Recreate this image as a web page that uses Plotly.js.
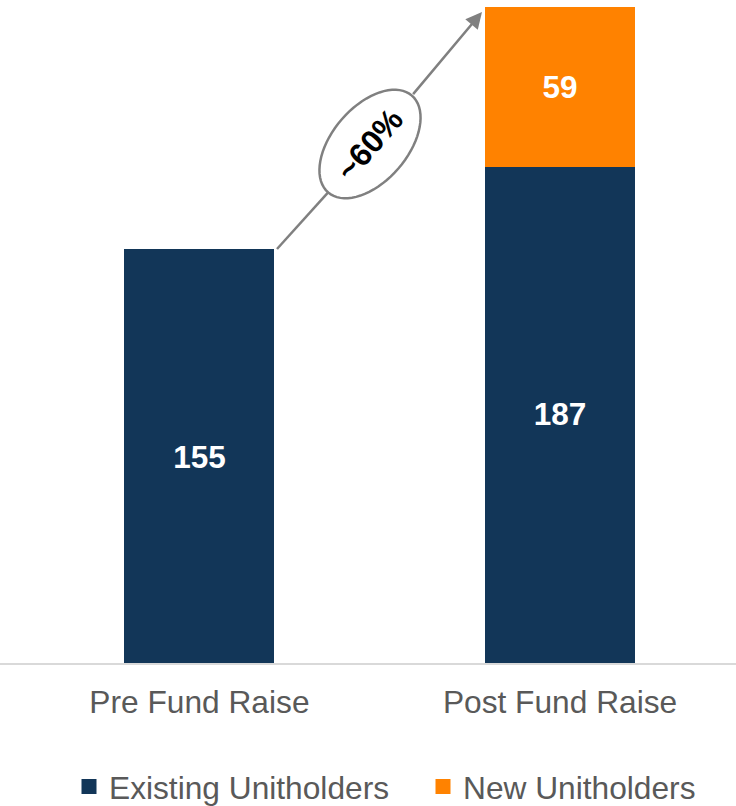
<!DOCTYPE html>
<html>
<head>
<meta charset="utf-8">
<script src="https://cdn.plot.ly/plotly-3.0.1.min.js"></script>
<style>html,body{margin:0;padding:0;background:#fff;}#chart{width:736px;height:806px;}</style>
</head>
<body>
<div id="chart"></div>
<script>
// ---- data ----
const categories = ['Pre Fund Raise', 'Post Fund Raise'];
const existingUnitholders = [155, 187];
const newUnitholders = [null, 59];
const seriesNames = ['Existing Unitholders', 'New Unitholders'];
const growthLabel = '~60%';

// ---- layout geometry (pixels) ----
const W = 736, H = 806, mT = 0, mB = 143, mL = 0, mR = 0;
const plotH = H - mT - mB, plotW = W - mL - mR;
const px2x = p => (p - mL) / plotW;
const px2y = p => (mT + plotH - p) / plotH;

// arrow + ellipse decoration (pixel positions)
const arrowStart = [277, 249], arrowTip = [482, 12];
const ec = [370, 144], ea = 64, eb = 37.5;
const dx = arrowTip[0] - arrowStart[0], dy = arrowTip[1] - arrowStart[1];
const dl = Math.hypot(dx, dy);
const u = [dx / dl, dy / dl], v = [-u[1], u[0]];
let path = '';
for (let i = 0; i <= 72; i++) {
  const t = i / 72 * 2 * Math.PI;
  const px = ec[0] + ea * Math.cos(t) * u[0] + eb * Math.sin(t) * v[0];
  const py = ec[1] + ea * Math.cos(t) * u[1] + eb * Math.sin(t) * v[1];
  path += (i === 0 ? 'M' : 'L') + px2x(px).toFixed(5) + ',' + px2y(py).toFixed(5);
}
path += 'Z';
const entry = [ec[0] - ea * u[0], ec[1] - ea * u[1]];
const exit = [ec[0] + ea * u[0], ec[1] + ea * u[1]];
const angleDeg = Math.atan2(dy, dx) * 180 / Math.PI;

const navy = '#123658', orange = '#FF8200', grey = '#808080';
const fontFam = 'Liberation Sans, Arial, sans-serif';
const lineW = 3;
const barW = (150 - lineW) / 360.5;

const traces = [
  {
    type: 'bar', name: seriesNames[0], x: categories, y: existingUnitholders,
    marker: {color: navy, line: {color: navy, width: lineW}}, width: barW,
    text: existingUnitholders.map(String), textposition: 'inside', insidetextanchor: 'middle',
    textfont: {color: '#ffffff', size: 31.5, family: fontFam, weight: 'bold'},
    constraintext: 'none', hoverinfo: 'x+y+name'
  },
  {
    type: 'bar', name: seriesNames[1], x: categories, y: newUnitholders,
    marker: {color: orange, line: {color: orange, width: lineW}}, width: barW,
    text: newUnitholders.map(v => v == null ? '' : String(v)), textposition: 'inside', insidetextanchor: 'middle',
    textfont: {color: '#ffffff', size: 31.5, family: fontFam, weight: 'bold'},
    constraintext: 'none', hoverinfo: 'x+y+name'
  }
];

const layout = {
  width: W, height: H,
  margin: {l: mL, r: mR, t: mT, b: mB, pad: 0, autoexpand: false},
  paper_bgcolor: '#ffffff', plot_bgcolor: '#ffffff',
  barmode: 'stack',
  font: {family: fontFam, color: '#595959'},
  xaxis: {
    type: 'category', range: [-0.553, 1.488], automargin: false,
    showline: true, linecolor: '#d9d9d9', linewidth: 2,
    showgrid: false, zeroline: false, ticks: '', ticklabelstandoff: 10,
    tickfont: {size: 31.7, color: '#595959', family: fontFam},
    fixedrange: true
  },
  yaxis: {
    range: [0, 249.2], visible: false, showgrid: false, zeroline: false, fixedrange: true
  },
  showlegend: true,
  legend: {
    orientation: 'h', x: px2x(69), xanchor: 'left', y: px2y(787), yanchor: 'middle',
    entrywidth: 309,
    font: {size: 31.7, color: '#595959', family: fontFam}, traceorder: 'normal',
    itemclick: false, itemdoubleclick: false
  },
  shapes: [
    {type: 'line', xref: 'paper', yref: 'paper',
     x0: px2x(arrowStart[0]), y0: px2y(arrowStart[1]), x1: px2x(entry[0]), y1: px2y(entry[1]),
     line: {color: grey, width: 2.5}},
    {type: 'path', xref: 'paper', yref: 'paper', path: path,
     fillcolor: '#ffffff', line: {color: grey, width: 2.5}, layer: 'above'}
  ],
  annotations: [
    {xref: 'paper', yref: 'paper', x: px2x(arrowTip[0]), y: px2y(arrowTip[1]),
     ax: exit[0] - arrowTip[0], ay: exit[1] - arrowTip[1], text: '',
     showarrow: true, arrowhead: 2, arrowsize: 1.3, arrowwidth: 2.5, arrowcolor: grey},
    {xref: 'paper', yref: 'paper', x: px2x(ec[0]), y: px2y(ec[1]),
     xanchor: 'center', yanchor: 'middle',
     text: '<b>' + growthLabel + '</b>', showarrow: false, textangle: angleDeg,
     font: {size: 32, color: '#000000', family: fontFam}}
  ]
};

Plotly.newPlot('chart', traces, layout, {displayModeBar: false});
</script>
</body>
</html>
